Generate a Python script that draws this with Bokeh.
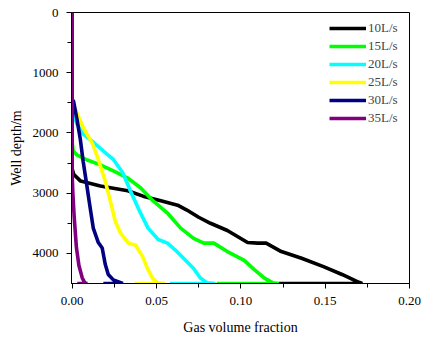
from bokeh.plotting import figure
from bokeh.models import Range1d, Legend, LegendItem, FixedTicker
from bokeh.embed import file_html
from bokeh.resources import INLINE

labels = ["10L/s", "15L/s", "20L/s", "25L/s", "30L/s", "35L/s"]
colors = ["#000000", "#00FF00", "#00FFFF", "#FFFF00", "#000080", "#800080"]

x10 = [0.000, 0.001, 0.005, 0.0167, 0.033, 0.042, 0.052, 0.0625, 0.068, 0.075, 0.082, 0.092, 0.104, 0.110, 0.115, 0.124, 0.136, 0.149, 0.160, 0.170, 0.172, 0.1226]
y10 = [2600, 2690, 2800, 2880, 2960, 3050, 3120, 3200, 3280, 3400, 3500, 3620, 3820, 3830, 3830, 3970, 4080, 4220, 4350, 4480, 4500, 4500]

x15 = [0.0, 0.0006, 0.003, 0.009, 0.0167, 0.0244, 0.0327, 0.0405, 0.048, 0.0565, 0.0643, 0.072, 0.078, 0.084, 0.092, 0.102, 0.108, 0.114, 0.119, 0.1226, 0.0857]
y15 = [2150, 2300, 2370, 2450, 2530, 2630, 2745, 2910, 3130, 3330, 3580, 3750, 3830, 3830, 3970, 4115, 4270, 4410, 4490, 4500, 4500]

x20 = [0.0, 0.0008, 0.003, 0.0065, 0.0125, 0.0185, 0.0244, 0.030, 0.0345, 0.040, 0.045, 0.051, 0.0565, 0.061, 0.066, 0.072, 0.076, 0.080, 0.085, 0.058]
y20 = [1650, 1690, 1860, 2020, 2150, 2300, 2440, 2660, 2960, 3300, 3580, 3770, 3830, 3940, 4080, 4250, 4410, 4490, 4500, 4500]

x25 = [0.0, 0.0018, 0.0065, 0.0119, 0.0155, 0.0196, 0.0226, 0.0256, 0.0286, 0.0333, 0.0375, 0.0417, 0.0446, 0.0476, 0.0506, 0.055, 0.037]
y25 = [1550, 1600, 1910, 2170, 2440, 2800, 3130, 3470, 3660, 3830, 3860, 4050, 4250, 4410, 4490, 4500, 4500]

x30 = [0.0, 0.0008, 0.003, 0.0048, 0.0065, 0.0083, 0.0107, 0.0125, 0.0155, 0.0178, 0.0196, 0.0214, 0.0244, 0.030, 0.0185]
y30 = [1450, 1470, 1800, 2100, 2470, 2800, 3250, 3580, 3820, 3910, 4180, 4350, 4440, 4500, 4500]

x35 = [0.0, 0.0, 0.0004, 0.0012, 0.0025, 0.004, 0.006, 0.0075, 0.009, 0.003]
y35 = [0, 2700, 3000, 3400, 3900, 4200, 4410, 4490, 4500, 4500]

xs = [x10, x15, x20, x25, x30, x35]
ys = [y10, y15, y20, y25, y30, y35]

x_ticks = [0.0, 0.05, 0.10, 0.15, 0.20]
x_tick_labels = ["0.00", "0.05", "0.10", "0.15", "0.20"]
y_ticks = [0, 1000, 2000, 3000, 4000]

FONT = "Liberation Serif"

p = figure(width=422, height=342, output_backend="svg", toolbar_location=None,
           x_range=Range1d(-0.0004, 0.2), y_range=Range1d(4500, 0),
           min_border_left=71, min_border_right=13, min_border_top=12, min_border_bottom=59)

items = []
for lab, c, xv, yv in zip(labels, colors, xs, ys):
    r = p.line(xv, yv, line_color=c, line_width=3.6)
    items.append(LegendItem(label=lab, renderers=[r]))

p.xgrid.visible = False
p.ygrid.visible = False
p.outline_line_color = "black"
p.outline_line_width = 1
p.outline_line_alpha = 1

p.xaxis.ticker = FixedTicker(ticks=x_ticks, minor_ticks=[0.025, 0.075, 0.125, 0.175])
p.xaxis.major_label_overrides = {t: l for t, l in zip(x_ticks, x_tick_labels)}
p.yaxis.ticker = FixedTicker(ticks=y_ticks, minor_ticks=[500, 1500, 2500, 3500])

for ax in (p.xaxis[0], p.yaxis[0]):
    ax.axis_line_color = "black"
    ax.major_tick_line_color = "black"
    ax.minor_tick_line_color = "black"
    ax.major_tick_in = 0
    ax.major_tick_out = 5
    ax.minor_tick_in = 0
    ax.minor_tick_out = 4
    ax.major_label_text_font = FONT
    ax.major_label_text_font_size = "13px"
    ax.major_label_text_color = "black"
    ax.axis_label_text_font = FONT
    ax.axis_label_text_font_size = "14px"
    ax.axis_label_text_font_style = "normal"
    ax.axis_label_text_color = "black"

p.xaxis.axis_label = "Gas volume fraction"
p.yaxis.axis_label = "Well depth/m"
p.xaxis.major_label_standoff = 8
p.xaxis.axis_label_standoff = 12
p.yaxis.major_label_standoff = 8
p.yaxis.axis_label_standoff = 6

legend = Legend(items=items, location=(258, 156), padding=0, margin=0, spacing=0,
                glyph_width=37, glyph_height=18, label_height=18, label_standoff=2,
                border_line_alpha=0, background_fill_alpha=0,
                label_text_font=FONT, label_text_font_size="13px")
p.add_layout(legend)

open("out.html", "w").write(file_html(p, INLINE))
